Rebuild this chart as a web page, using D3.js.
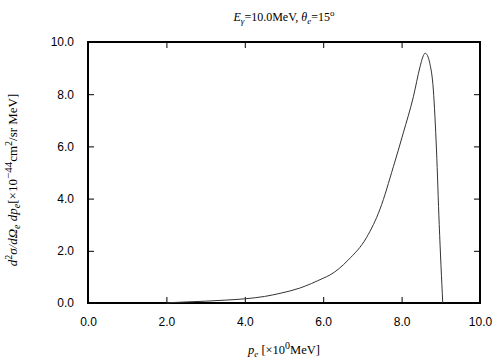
<!DOCTYPE html>
<html>
<head>
<meta charset="utf-8">
<script src="https://cdn.jsdelivr.net/npm/d3@7"></script>
<style>
  body { margin: 0; background: #fff; }
  .tick text { font-family: "Liberation Sans", Arial, sans-serif; font-size: 12px; }
  .serif { font-family: "Liberation Serif", "Times New Roman", serif; }
</style>
</head>
<body>
<div id="chart"></div>
<script>
width = 504;
height = 360;
margins = {left: 88, right: 24, top: 42, bottom: 57};

// p_e [MeV] and cross section values
pe = [2.0, 2.2, 2.5, 3.0, 3.5, 4.0, 4.5, 4.9, 5.4, 6.0, 6.17, 6.64, 7.11, 7.45, 7.79,
      8.04, 8.30, 8.47, 8.54, 8.60, 8.66, 8.72, 8.81, 8.89, 8.96, 9.05];
xsec = [0.0, 0.02, 0.04, 0.07, 0.11, 0.16, 0.25, 0.37, 0.57, 0.95, 1.07, 1.65, 2.52, 3.6, 5.22,
        6.5, 7.9, 9.05, 9.42, 9.57, 9.48, 9.18, 8.16, 5.86, 3.0, 0.0];
xTicks = [0, 2, 4, 6, 8, 10];
yTicks = [0, 2, 4, 6, 8, 10];

var data = pe.map(function(p, i) { return {x: p, y: xsec[i]}; });

var xScale = d3.scaleLinear().domain([0, 10]).range([margins.left, width - margins.right]);
var yScale = d3.scaleLinear().domain([0, 10]).range([height - margins.bottom, margins.top]);

var svg = d3.select("#chart").append("svg")
    .attr("width", width)
    .attr("height", height);

var fmt = d3.format(".1f");

// axes with inward ticks
svg.append("g")
    .attr("transform", "translate(0," + yScale(0) + ")")
    .call(d3.axisBottom(xScale).tickValues(xTicks).tickFormat(fmt).tickSizeInner(-6).tickSizeOuter(0).tickPadding(14))
    .call(g => g.select(".domain").remove());
svg.append("g")
    .attr("transform", "translate(0," + yScale(10) + ")")
    .call(d3.axisTop(xScale).tickValues(xTicks).tickFormat("").tickSizeInner(-6).tickSizeOuter(0))
    .call(g => g.select(".domain").remove());
svg.append("g")
    .attr("transform", "translate(" + xScale(0) + ",0)")
    .call(d3.axisLeft(yScale).tickValues(yTicks).tickFormat(fmt).tickSizeInner(-6).tickSizeOuter(0).tickPadding(14))
    .call(g => g.select(".domain").remove());
svg.append("g")
    .attr("transform", "translate(" + xScale(10) + ",0)")
    .call(d3.axisRight(yScale).tickValues(yTicks).tickFormat("").tickSizeInner(-6).tickSizeOuter(0))
    .call(g => g.select(".domain").remove());

svg.selectAll(".tick text").attr("fill", "#000");
svg.selectAll(".tick line").attr("stroke", "#000");

// frame
svg.append("rect")
    .attr("x", xScale(0))
    .attr("y", yScale(10))
    .attr("width", xScale(10) - xScale(0))
    .attr("height", yScale(0) - yScale(10))
    .attr("fill", "none")
    .attr("stroke", "#000")
    .attr("stroke-width", 2);

// curve
var line = d3.line()
    .x(d => xScale(d.x))
    .y(d => yScale(d.y))
    .curve(d3.curveMonotoneX);
svg.append("path")
    .datum(data)
    .attr("d", line)
    .attr("fill", "none")
    .attr("stroke", "#333")
    .attr("stroke-width", 1);

// title
var title = svg.append("text")
    .attr("class", "serif")
    .attr("x", (xScale(0) + xScale(10)) / 2)
    .attr("y", 21)
    .attr("text-anchor", "middle")
    .attr("font-size", 12);
title.append("tspan").attr("font-style", "italic").text("E");
title.append("tspan").attr("font-style", "italic").attr("font-size", 9).attr("dy", 3).text("γ");
title.append("tspan").attr("dy", -3).text("=10.0MeV,  ");
title.append("tspan").attr("font-style", "italic").text("θ");
title.append("tspan").attr("font-style", "italic").attr("font-size", 9).attr("dy", 3).text("e");
title.append("tspan").attr("dy", -3).text("=15");
title.append("tspan").attr("font-size", 9).attr("dy", -5).text("o");

// x label
var xl = svg.append("text")
    .attr("class", "serif")
    .attr("x", (xScale(0) + xScale(10)) / 2)
    .attr("y", 354)
    .attr("text-anchor", "middle")
    .attr("font-size", 12.5);
xl.append("tspan").attr("font-style", "italic").text("p");
xl.append("tspan").attr("font-style", "italic").attr("font-size", 9).attr("dy", 3).text("e");
xl.append("tspan").attr("dy", -3).text(" [×10");
xl.append("tspan").attr("font-size", 10).attr("dy", -5).text("0");
xl.append("tspan").attr("dy", 5).text("MeV]");

// y label
var yl = svg.append("text")
    .attr("class", "serif")
    .attr("transform", "translate(17,180) rotate(-90)")
    .attr("text-anchor", "middle")
    .attr("font-size", 13);
yl.append("tspan").attr("font-style", "italic").text("d");
yl.append("tspan").attr("font-size", 10).attr("dy", -5).text("2");
yl.append("tspan").attr("font-style", "italic").attr("dy", 5).text("σ/dΩ");
yl.append("tspan").attr("font-style", "italic").attr("font-size", 10).attr("dy", 3).text("e");
yl.append("tspan").attr("font-style", "italic").attr("dy", -3).text(" dp");
yl.append("tspan").attr("font-style", "italic").attr("font-size", 10).attr("dy", 3).text("e");
yl.append("tspan").attr("dy", -3).text("[×10");
yl.append("tspan").attr("font-size", 11).attr("dy", -5).text("−44");
yl.append("tspan").attr("dy", 5).text("cm");
yl.append("tspan").attr("font-size", 10).attr("dy", -5).text("2");
yl.append("tspan").attr("dy", 5).text("/sr MeV]");
</script>
</body>
</html>
